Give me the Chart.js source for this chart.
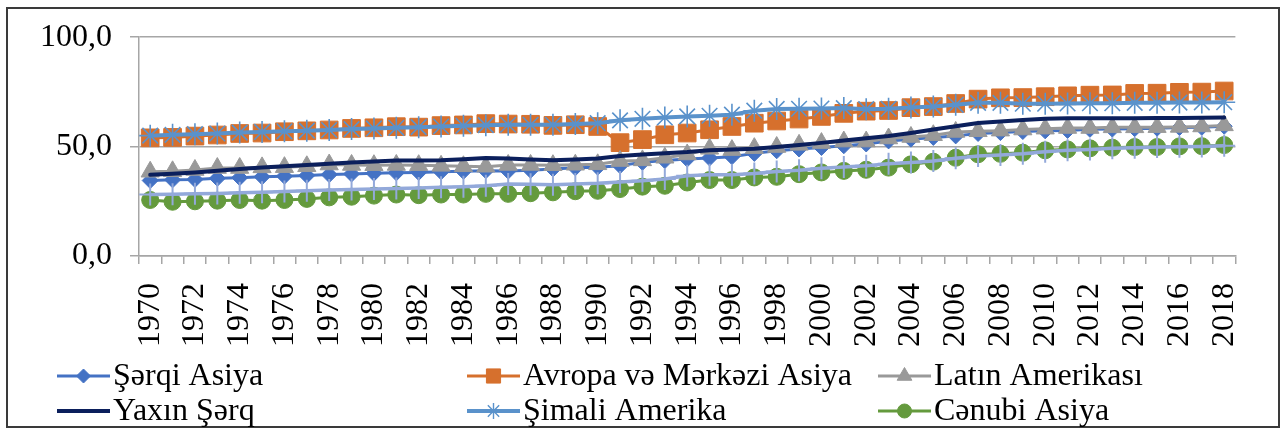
<!DOCTYPE html>
<html>
<head>
<meta charset="utf-8">
<script src="https://cdn.jsdelivr.net/npm/chart.js@4.4.0/dist/chart.umd.min.js"></script>
<style>
html,body{margin:0;padding:0;background:#fff;}
#wrap{position:relative;width:1282px;height:430px;overflow:hidden;}
#frame{position:absolute;left:6px;top:7px;width:1270px;height:417px;border:2px solid #3a3a3a;}
#c{position:absolute;left:0;top:0;}
</style>
</head>
<body>
<div id="wrap"><div id="frame"></div><canvas id="c" width="1282" height="430"></canvas></div>
<script>
const years = ['1970','1971','1972','1973','1974','1975','1976','1977','1978','1979',
'1980','1981','1982','1983','1984','1985','1986','1987','1988','1989',
'1990','1991','1992','1993','1994','1995','1996','1997','1998','1999',
'2000','2001','2002','2003','2004','2005','2006','2007','2008','2009',
'2010','2011','2012','2013','2014','2015','2016','2017','2018'];

const seriesNames = ['Şərqi Asiya','Avropa və Mərkəzi Asiya','Latın Amerikası','Yaxın Şərq','Şimali Amerika','Cənubi Asiya'];

const eastAsia = [34.5,34.8,35.0,35.5,35.8,36.2,36.5,36.8,37.2,37.5,
37.8,38.0,38.2,38.5,38.7,39.0,38.8,39.2,39.8,40.3,
40.6,41.3,42.8,43.6,44.3,44.8,45.4,46.9,48.1,48.9,
49.6,50.4,51.2,52.6,53.4,54.2,54.9,56.0,56.4,56.9,
57.2,57.4,57.9,58.0,58.2,58.4,58.7,58.8,59.3];

const europeCentralAsia = [54.0,54.2,54.8,55.3,56.0,56.2,56.8,57.2,57.6,58.3,
58.6,59.1,58.9,59.6,59.9,60.5,60.3,60.2,59.7,60.0,
59.2,51.8,53.2,55.4,56.2,57.7,59.2,60.7,61.7,62.6,
63.8,65.2,66.2,66.5,67.8,68.3,69.7,71.7,72.3,72.4,
72.8,73.2,73.5,73.6,74.3,74.4,74.8,74.9,75.4];

const latinAmerica = [38.5,38.7,39.3,40.2,40.2,40.5,40.6,41.0,41.8,41.6,
41.5,41.6,41.5,41.2,41.0,40.8,41.6,41.6,41.5,41.7,
41.9,43.4,43.7,44.9,46.4,49.0,48.4,49.3,49.8,50.8,
51.6,52.3,52.3,53.7,54.4,55.2,56.7,57.0,57.3,57.8,
58.2,58.5,58.5,58.8,58.8,58.9,59.0,59.2,59.7];

const middleEast = [37.1,37.6,38.2,39.0,39.8,40.4,41.0,41.6,42.2,42.7,
43.2,43.7,43.7,43.8,44.2,44.8,44.6,44.1,43.8,44.1,
44.6,45.7,46.4,47.0,47.5,48.3,48.7,49.0,49.8,50.7,
51.7,52.8,53.8,54.8,56.2,57.8,59.3,60.8,61.5,62.2,
62.7,63.0,63.0,63.0,63.0,63.1,63.1,63.2,63.3];

const northAmerica = [55.0,55.4,55.7,56.0,56.4,56.7,57.0,57.3,57.6,58.0,
58.3,58.6,58.9,59.2,59.5,59.8,60.0,60.0,60.0,60.3,
60.7,62.0,62.7,63.3,63.8,64.1,64.6,66.4,67.2,67.3,
67.4,67.6,67.1,67.3,67.9,68.3,69.1,70.0,70.0,69.6,
69.6,69.7,69.8,69.8,70.0,70.0,70.1,70.2,70.3];

const southAsia = [25.6,24.8,25.0,25.3,25.6,25.3,25.6,26.1,26.8,27.1,
27.6,28.1,27.8,28.1,28.1,28.4,28.4,28.7,29.1,29.6,
29.8,30.6,31.7,32.1,33.6,34.7,34.7,35.9,36.2,37.4,
38.2,38.9,39.4,40.4,41.9,43.1,44.9,46.5,46.7,47.2,
48.3,48.7,49.2,49.5,49.8,49.8,50.1,50.2,50.7];

// seventh series drawn in the chart without a legend entry
const series7 = [28.1,28.2,28.4,28.6,28.9,29.1,29.5,29.8,30.2,30.4,
30.6,30.9,31.1,31.4,31.7,32.1,32.9,32.8,32.6,32.9,
33.2,33.8,34.4,35.2,36.7,37.1,37.1,37.7,38.6,39.2,
40.1,40.7,41.2,42.2,42.7,43.4,44.7,45.7,46.2,46.7,
47.6,48.3,48.7,49.2,49.5,49.8,49.9,50.1,50.4];

const yTicks = [0, 50, 100];

const FONT = '"Liberation Serif", "Times New Roman", serif';
const FSIZE = 32;

function ds(label, data, color, lw, style, r, pbw, order, legend) {
  return {
    label: label, data: data, borderColor: color, backgroundColor: color,
    borderWidth: lw, pointStyle: style, pointRadius: r, pointHoverRadius: r,
    pointBackgroundColor: color, pointBorderColor: color, pointBorderWidth: pbw,
    tension: 0, fill: false, order: order, inLegend: legend
  };
}

const datasets = [
  ds(seriesNames[0], eastAsia, '#4472C4', 3, 'rectRot', 8, 1, 7, true),
  ds(seriesNames[1], europeCentralAsia, '#D6702D', 3, 'rect', 12.5, 1, 6, true),
  ds(seriesNames[2], latinAmerica, '#999999', 3, 'triangle', 10.5, 1, 5, true),
  ds(seriesNames[3], middleEast, '#0B1F5C', 4, false, 0, 0, 4, true),
  ds(seriesNames[4], northAmerica, '#5A92CB', 4, 'star', 11, 1.6, 3, true),
  ds(seriesNames[5], southAsia, '#649A3D', 3, 'circle', 8.5, 1, 2, true),
  ds('', series7, '#93A9DA', 3.5, 'cross', 11, 2, 1, false)
];

function drawMarker(ctx, style, x, y, r, color, bw) {
  ctx.save();
  ctx.fillStyle = color; ctx.strokeStyle = color; ctx.lineWidth = bw;
  ctx.beginPath();
  if (style === 'rectRot') {
    ctx.moveTo(x, y - r); ctx.lineTo(x + r, y); ctx.lineTo(x, y + r); ctx.lineTo(x - r, y); ctx.closePath();
    ctx.fill(); ctx.stroke();
  } else if (style === 'rect') {
    const s = r * Math.SQRT1_2;
    ctx.rect(x - s, y - s, 2 * s, 2 * s); ctx.fill(); ctx.stroke();
  } else if (style === 'triangle') {
    ctx.moveTo(x, y - r);
    ctx.lineTo(x + r * Math.sin(2 * Math.PI / 3), y - r * Math.cos(2 * Math.PI / 3));
    ctx.lineTo(x + r * Math.sin(4 * Math.PI / 3), y - r * Math.cos(4 * Math.PI / 3));
    ctx.closePath(); ctx.fill(); ctx.stroke();
  } else if (style === 'circle') {
    ctx.arc(x, y, r, 0, Math.PI * 2); ctx.fill(); ctx.stroke();
  } else if (style === 'star') {
    for (let k = 0; k < 4; k++) {
      const a = k * Math.PI / 4;
      ctx.moveTo(x - Math.sin(a) * r, y - Math.cos(a) * r);
      ctx.lineTo(x + Math.sin(a) * r, y + Math.cos(a) * r);
    }
    ctx.stroke();
  }
  ctx.restore();
}

const legendPlugin = {
  id: 'columnLegend',
  afterDraw(chart) {
    const ctx = chart.ctx;
    const colX = [57, 467, 878];
    const rowY = [376, 411];
    const items = chart.data.datasets.filter(d => d.inLegend);
    items.forEach((d, i) => {
      const col = i % 3, row = Math.floor(i / 3);
      const x0 = colX[col], y = rowY[row];
      ctx.save();
      ctx.strokeStyle = d.borderColor;
      ctx.lineWidth = d.borderWidth;
      ctx.beginPath(); ctx.moveTo(x0, y); ctx.lineTo(x0 + 53, y); ctx.stroke();
      ctx.restore();
      if (d.pointStyle) {
        const lr = d.pointStyle === 'rect' ? 10 : (d.pointStyle === 'rectRot' ? 7 : (d.pointStyle === 'star' ? 8 : (d.pointStyle === 'triangle' ? 8.5 : 7)));
        drawMarker(ctx, d.pointStyle, x0 + 26.5, y, lr, d.pointBackgroundColor, d.pointStyle === 'star' ? 1.4 : 1);
      }
      ctx.save();
      ctx.fillStyle = '#000';
      ctx.font = FSIZE + 'px ' + FONT;
      ctx.textBaseline = 'middle';
      ctx.textAlign = 'left';
      ctx.fillText(d.label, x0 + 56, y + 1);
      ctx.restore();
    });
  }
};

new Chart(document.getElementById('c'), {
  type: 'line',
  data: { labels: years, datasets: datasets },
  plugins: [legendPlugin],
  options: {
    responsive: false,
    animation: false,
    devicePixelRatio: 1,
    layout: { padding: { left: 0, top: 35, right: 40, bottom: 0 } },
    plugins: { legend: { display: false }, tooltip: { enabled: false } },
    elements: { line: { borderCapStyle: 'round', borderJoinStyle: 'round' } },
    scales: {
      x: {
        type: 'category',
        offset: true,
        grid: { offset: true, drawOnChartArea: false, drawTicks: true, tickLength: 8, color: '#a6a6a6', lineWidth: 1.5 },
        border: { display: true, color: '#a6a6a6', width: 1.5 },
        ticks: {
          autoSkip: false, minRotation: 90, maxRotation: 90, padding: 19,
          color: '#000', font: { family: FONT, size: FSIZE },
          callback: function(v, i) { return i % 2 === 0 ? years[i] : ''; }
        },
        afterFit(scale) { scale.height = 174; }
      },
      y: {
        min: 0, max: 100,
        afterBuildTicks(scale) { scale.ticks = yTicks.map(v => ({ value: v })); },
        grid: { color: '#a6a6a6', lineWidth: 1.5, drawTicks: true, tickLength: 9 },
        border: { display: true, color: '#a6a6a6', width: 1.5 },
        ticks: {
          padding: 18, color: '#000', font: { family: FONT, size: FSIZE },
          callback: function(v) { return v.toFixed(1).replace('.', ','); }
        },
        afterFit(scale) { scale.width = 139; }
      }
    }
  }
});
</script>
</body>
</html>
